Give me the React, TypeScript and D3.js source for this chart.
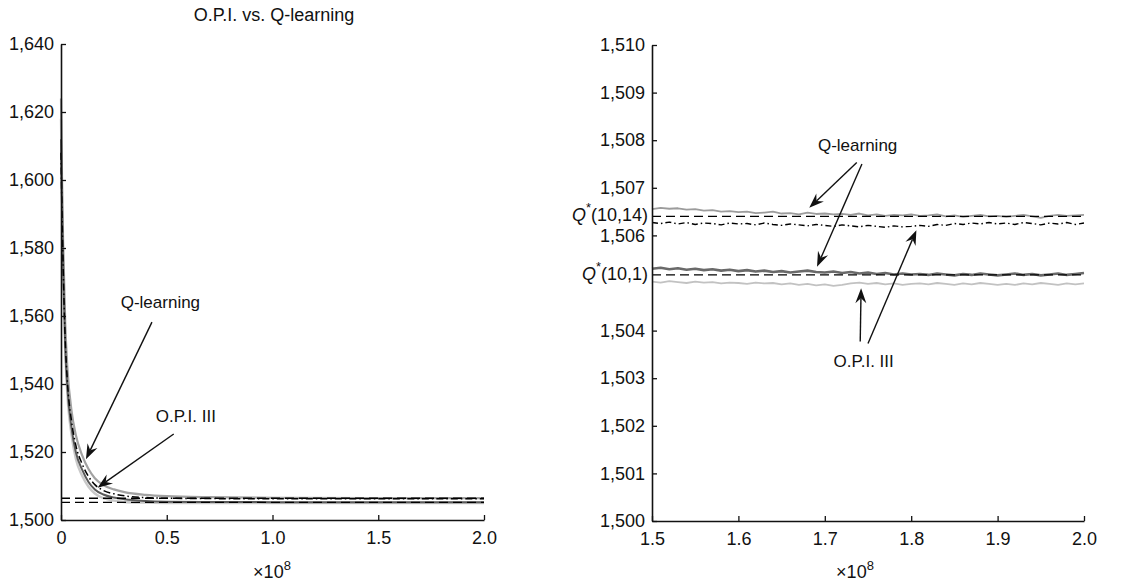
import React, { useEffect, useRef } from "react";
import * as d3 from "d3";

// left panel: whole run, x in units of 1e8
const leftX = [0, 0.005, 0.01, 0.02, 0.03, 0.05, 0.07, 0.1, 0.13, 0.16, 0.2, 0.25, 0.3, 0.4, 0.5, 0.7, 1.0, 1.5, 2.0];
const leftQ14 = [1624, 1600, 1582, 1558, 1545, 1532, 1525, 1519, 1515, 1512.3, 1510.3, 1509, 1508.2, 1507.4, 1507, 1506.7, 1506.55, 1506.45, 1506.42];
const leftOpi14 = [1608, 1590, 1575, 1553, 1541, 1529, 1522, 1516.5, 1512.8, 1510.4, 1508.7, 1507.7, 1507.1, 1506.6, 1506.4, 1506.3, 1506.25, 1506.22, 1506.22];
const leftQ1 = [1612, 1592, 1575, 1551, 1539, 1527, 1520, 1514.8, 1511.2, 1509, 1507.5, 1506.6, 1506.1, 1505.6, 1505.4, 1505.3, 1505.25, 1505.2, 1505.2];
const leftOpi1 = [1618, 1594, 1575, 1550, 1537, 1525, 1518, 1513, 1509.8, 1507.8, 1506.4, 1505.7, 1505.3, 1505.1, 1505.0, 1505.0, 1504.97, 1504.97, 1505.0];

// right panel: zoom on the tail
const rightX = [
  1.5, 1.51, 1.52, 1.53, 1.54, 1.55, 1.56, 1.57, 1.58, 1.59, 1.6,
  1.61, 1.62, 1.63, 1.64, 1.65, 1.66, 1.67, 1.68, 1.69, 1.7,
  1.71, 1.72, 1.73, 1.74, 1.75, 1.76, 1.77, 1.78, 1.79, 1.8,
  1.81, 1.82, 1.83, 1.84, 1.85, 1.86, 1.87, 1.88, 1.89, 1.9,
  1.91, 1.92, 1.93, 1.94, 1.95, 1.96, 1.97, 1.98, 1.99, 2.0,
];
const rightQ14 = [
  1506.55, 1506.58, 1506.56, 1506.57, 1506.54, 1506.55, 1506.52, 1506.53, 1506.5, 1506.51, 1506.49,
  1506.5, 1506.47, 1506.48, 1506.5, 1506.46, 1506.47, 1506.44, 1506.48, 1506.45, 1506.46,
  1506.44, 1506.45, 1506.43, 1506.46, 1506.42, 1506.44, 1506.41, 1506.43, 1506.42, 1506.44,
  1506.41, 1506.42, 1506.44, 1506.4, 1506.42, 1506.39, 1506.41, 1506.43, 1506.4, 1506.41,
  1506.39, 1506.41, 1506.43, 1506.4, 1506.37, 1506.41, 1506.43, 1506.41, 1506.42, 1506.43,
];
const rightOpi14 = [
  1506.27, 1506.25, 1506.28, 1506.24, 1506.27, 1506.23, 1506.26, 1506.25, 1506.22, 1506.26, 1506.24,
  1506.25, 1506.22, 1506.26, 1506.23, 1506.21, 1506.24, 1506.22, 1506.2, 1506.23, 1506.21,
  1506.19, 1506.22, 1506.2, 1506.18, 1506.21, 1506.19, 1506.17, 1506.2, 1506.18, 1506.19,
  1506.21, 1506.19, 1506.23, 1506.21, 1506.25, 1506.23, 1506.26, 1506.24, 1506.27, 1506.24,
  1506.26, 1506.23, 1506.27, 1506.25, 1506.22, 1506.26, 1506.24, 1506.27, 1506.23, 1506.26,
];
const rightQ1 = [
  1505.3, 1505.32, 1505.29, 1505.31, 1505.28, 1505.3, 1505.27, 1505.29, 1505.26, 1505.28, 1505.25,
  1505.27, 1505.24, 1505.26, 1505.23, 1505.25, 1505.22, 1505.24, 1505.26, 1505.23, 1505.22,
  1505.24, 1505.21, 1505.23, 1505.2, 1505.22, 1505.19, 1505.21, 1505.18, 1505.2, 1505.18,
  1505.19, 1505.17, 1505.2, 1505.18, 1505.16, 1505.19, 1505.17, 1505.2, 1505.18, 1505.16,
  1505.18, 1505.2, 1505.17, 1505.19, 1505.16, 1505.18, 1505.2, 1505.17, 1505.19, 1505.21,
];
const rightOpi1 = [
  1505.03, 1505.01, 1505.04, 1505.02, 1505.0, 1505.03, 1505.01, 1505.02, 1504.99, 1505.01, 1505.0,
  1504.98, 1505.01, 1504.99, 1505.0, 1504.97, 1504.99, 1504.96, 1504.98, 1504.95, 1504.97,
  1504.94, 1504.96, 1504.99, 1505.01, 1504.98, 1505.0, 1504.97, 1504.99, 1504.96, 1504.98,
  1504.99, 1504.97, 1505.0, 1504.98, 1504.96, 1504.99, 1504.97, 1505.0, 1504.98, 1504.96,
  1504.98, 1504.96, 1504.99, 1504.97, 1505.0, 1504.98, 1504.96, 1504.99, 1504.97, 1504.99,
];

// optimal values Q*(10,14) and Q*(10,1)
const qStar14 = 1506.4;
const qStar1 = 1505.17;

const leftYTicks = [1500, 1520, 1540, 1560, 1580, 1600, 1620, 1640];
const leftXTicks = [0, 0.5, 1.0, 1.5, 2.0];
const rightYTicks = [1500, 1501, 1502, 1503, 1504, 1506, 1507, 1508, 1509, 1510];
const rightXTicks = [1.5, 1.6, 1.7, 1.8, 1.9, 2.0];

// annotations in data units: label [x, y], arrows [fromX, fromY, toX, toY]
const leftNotes = [
  { text: "Q-learning", at: [0.47, 1563.6], arrows: [[0.43, 1558.2, 0.118, 1517.9]] },
  { text: "O.P.I. III", at: [0.59, 1530.2], arrows: [[0.533, 1525.3, 0.173, 1509.5]] },
];
const rightNotes = [
  {
    text: "Q-learning",
    at: [1.738, 1507.86],
    arrows: [
      [1.737, 1507.53, 1.682, 1506.58],
      [1.743, 1507.5, 1.691, 1505.34],
    ],
  },
  {
    text: "O.P.I. III",
    at: [1.745, 1503.33],
    arrows: [
      [1.741, 1503.77, 1.742, 1504.89],
      [1.75, 1503.73, 1.806, 1506.11],
    ],
  },
];

const FONT = "'Liberation Sans', Arial, sans-serif";

const App = () => {
  const ref = useRef<SVGSVGElement>(null);

  useEffect(() => {
    const svg = d3.select(ref.current);
    svg.selectAll("*").remove();
    svg.style("font-family", FONT);

    const drawPanel = (opts: any) => {
      const { x, y, xTicks, yTicks, xFmt, series, notes, xs } = opts;
      const g = svg.append("g");

      const yAxis = d3
        .axisLeft(y)
        .tickValues(yTicks)
        .tickFormat(d3.format(","))
        .tickSizeInner(-5)
        .tickSizeOuter(0)
        .tickPadding(7);
      const xAxis = d3
        .axisBottom(x)
        .tickValues(xTicks)
        .tickFormat(xFmt)
        .tickSizeInner(-5)
        .tickSizeOuter(0)
        .tickPadding(11);

      // data lines
      series.forEach((s: any) => {
        const line = d3
          .line<number>()
          .x((_, i) => x(s.x[i]))
          .y((d) => y(d))
          .curve(s.smooth ? d3.curveMonotoneX : d3.curveLinear);
        g.append("path")
          .attr("d", line(s.values))
          .attr("fill", "none")
          .attr("stroke", s.color)
          .attr("stroke-width", s.width)
          .attr("stroke-dasharray", s.dash || null)
          .attr("stroke-linejoin", "round");
      });

      // optimal value dashed lines
      [qStar14, qStar1].forEach((v) => {
        g.append("line")
          .attr("x1", x.range()[0])
          .attr("x2", x.range()[1])
          .attr("y1", y(v))
          .attr("y2", y(v))
          .attr("stroke", "#000")
          .attr("stroke-width", 1.3)
          .attr("stroke-dasharray", "9,5");
      });

      const ya = g
        .append("g")
        .attr("transform", `translate(${x.range()[0]},0)`)
        .call(yAxis);
      const xa = g
        .append("g")
        .attr("transform", `translate(0,${y.range()[0]})`)
        .call(xAxis);
      [ya, xa].forEach((a) => {
        a.select(".domain").attr("stroke", "#111").attr("stroke-width", 1.6);
        a.selectAll(".tick line").attr("stroke", "#111").attr("stroke-width", 1.3);
        a.selectAll(".tick text")
          .attr("fill", "#111")
          .style("font-size", "18px")
          .style("font-family", FONT);
      });

      // x label  ×10^8
      const lab = g
        .append("text")
        .attr("x", xs)
        .attr("y", 578)
        .attr("text-anchor", "middle")
        .style("font-size", "18px")
        .attr("fill", "#111");
      lab.append("tspan").text("×10");
      lab.append("tspan").attr("dy", -8).style("font-size", "13px").text("8");

      // annotations
      notes.forEach((n: any) => {
        g.append("text")
          .attr("x", x(n.at[0]))
          .attr("y", y(n.at[1]))
          .attr("text-anchor", "middle")
          .attr("dominant-baseline", "middle")
          .style("font-size", "17px")
          .attr("fill", "#111")
          .text(n.text);
        n.arrows.forEach((a: number[]) => {
          const x1 = x(a[0]), y1 = y(a[1]), x2 = x(a[2]), y2 = y(a[3]);
          const ang = Math.atan2(y2 - y1, x2 - x1);
          const L = 15, W = 5.5, N = 10;
          const ca = Math.cos(ang), sa = Math.sin(ang);
          const pt = (l: number, w: number) => [x2 - l * ca - w * sa, y2 - l * sa + w * ca];
          g.append("line")
            .attr("x1", x1)
            .attr("y1", y1)
            .attr("x2", pt(N, 0)[0])
            .attr("y2", pt(N, 0)[1])
            .attr("stroke", "#111")
            .attr("stroke-width", 1.4);
          const p = [pt(0, 0), pt(L, W), pt(N, 0), pt(L, -W)];
          g.append("path")
            .attr("d", "M" + p.map((q) => q.join(",")).join("L") + "Z")
            .attr("fill", "#111");
        });
      });
      return g;
    };

    // left panel
    const xL = d3.scaleLinear().domain([0, 2]).range([61, 484]);
    const yL = d3.scaleLinear().domain([1500, 1640]).range([520, 44]);
    drawPanel({
      x: xL,
      y: yL,
      xTicks: leftXTicks,
      yTicks: leftYTicks,
      xFmt: (d: number) => (d === 0 ? "0" : d3.format(".1f")(d)),
      xs: 272,
      notes: leftNotes,
      series: [
        { x: leftX, values: leftOpi1, color: "#c9c9c9", width: 2.4, smooth: true },
        { x: leftX, values: leftQ14, color: "#a2a2a2", width: 2.2, smooth: true },
        { x: leftX, values: leftQ1, color: "#5a5a5a", width: 2, smooth: true },
        { x: leftX, values: leftOpi14, color: "#000", width: 1.5, dash: "7,3,1.5,3", smooth: true },
      ],
    });
    svg
      .append("text")
      .attr("x", 274)
      .attr("y", 21)
      .attr("text-anchor", "middle")
      .style("font-size", "18px")
      .attr("fill", "#111")
      .text("O.P.I. vs. Q-learning");

    // right panel
    const xR = d3.scaleLinear().domain([1.5, 2]).range([652, 1084]);
    const yR = d3.scaleLinear().domain([1500, 1510]).range([521, 45]);
    const gR = drawPanel({
      x: xR,
      y: yR,
      xTicks: rightXTicks,
      yTicks: rightYTicks,
      xFmt: d3.format(".1f"),
      xs: 855,
      notes: rightNotes,
      series: [
        { x: rightX, values: rightOpi1, color: "#c2c2c2", width: 1.8 },
        { x: rightX, values: rightQ1, color: "#6a6a6a", width: 2.6 },
        { x: rightX, values: rightQ14, color: "#9c9c9c", width: 1.8 },
        { x: rightX, values: rightOpi14, color: "#000", width: 1.4, dash: "6,3,1.5,3" },
      ],
    });

    // Q* labels on the right axis
    [
      { v: qStar14, arg: "(10,14)" },
      { v: qStar1, arg: "(10,1)" },
    ].forEach((q) => {
      const t = gR
        .append("text")
        .attr("x", xR.range()[0] - 4)
        .attr("y", yR(q.v))
        .attr("text-anchor", "end")
        .attr("dominant-baseline", "middle")
        .style("font-size", "18px")
        .attr("fill", "#111");
      t.append("tspan").style("font-style", "italic").text("Q");
      t.append("tspan").attr("dy", -7).style("font-size", "13px").text("*");
      t.append("tspan").attr("dy", 7).text(q.arg);
    });
  }, []);

  return (
    <svg
      ref={ref}
      width={1127}
      height={581}
      style={{ position: "absolute", left: 0, top: 0, background: "#fff" }}
    ></svg>
  );
};

export default App;
